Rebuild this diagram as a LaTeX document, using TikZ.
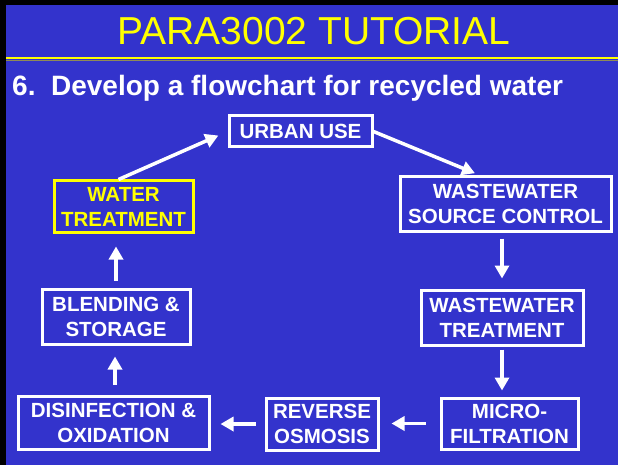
\documentclass[tikz,border=0pt]{standalone}
\usepackage{fontspec}
\setmainfont{Liberation Sans}
\usetikzlibrary{arrows.meta}
\definecolor{slideblue}{RGB}{51,51,204}
\definecolor{slideyellow}{RGB}{255,255,0}

\begin{document}
\begin{tikzpicture}[x=1pt,y=-1pt,>={Triangle[length=13pt,width=14pt]},
    stage/.style={draw=white,line width=3pt,text=white,align=center,inner sep=0pt,
      font=\bfseries\fontsize{20.5}{25}\selectfont},
    flow/.style={->,white,line width=3.5pt}]
  % slide background
  \fill[black] (0,0) rectangle (618,465);
  \fill[slideblue] (6,5) rectangle (618,465);
  \useasboundingbox (0,0) rectangle (618,465);
  \draw[slideyellow,line width=2.5pt] (6,58) -- (618,58);
  \draw[gray!60!olive,line width=1pt] (6,60.6) -- (618,60.6);

  % headings
  \node[anchor=base,text=slideyellow,font=\fontsize{39}{44}\selectfont] (title) at (314,45) {PARA3002 TUTORIAL};
  \node[anchor=base west,text=white,inner sep=0pt,font=\bfseries\fontsize{28}{32}\selectfont] (task) at (12,96) {6.\ \ Develop a flowchart for recycled water};

  % stages of the cycle
  \node[stage,minimum width=143pt,minimum height=31pt] (urban) at (300.5,131.5) {URBAN USE};
  \node[stage,draw=slideyellow,text=slideyellow,minimum width=139pt,minimum height=51pt] (water) at (123.5,206.5) {WATER\\TREATMENT};
  \node[stage,minimum width=211pt,minimum height=54pt] (source) at (505.5,204) {WASTEWATER\\SOURCE CONTROL};
  \node[stage,minimum width=162pt,minimum height=55pt] (wwt) at (502,317.5) {WASTEWATER\\TREATMENT};
  \node[stage,minimum width=148pt,minimum height=55pt] (blend) at (116,316.5) {BLENDING \&\\STORAGE};
  \node[stage,minimum width=191pt,minimum height=53pt] (disinf) at (113.5,422.5) {DISINFECTION \&\\OXIDATION};
  \node[stage,minimum width=112pt,minimum height=52pt] (ro) at (322,424) {REVERSE\\OSMOSIS};
  \node[stage,minimum width=137pt,minimum height=51pt] (micro) at (509.5,423.5) {MICRO-\\FILTRATION};

  % arrows between stages
  \draw[flow,shorten >=10pt] ([xshift=-5pt]water.north) -- (urban.west);
  \draw[flow,shorten >=6pt] (urban.east) -- ([xshift=-25pt]source.north);
  \draw[flow,shorten <=6pt,shorten >=10pt] (wwt.north |- source.south) -- (wwt.north);
  \draw[flow,shorten <=3pt,shorten >=6pt] (wwt.south) -- (wwt.south |- micro.north);
  \draw[flow,shorten <=14pt,shorten >=12pt] (micro.west) -- (micro.west -| ro.east);
  \draw[flow,shorten <=9pt,shorten >=10pt] (ro.west) -- (ro.west -| disinf.east);
  \draw[flow,shorten <=10pt,shorten >=11pt] ([xshift=1.5pt]disinf.north) -- ([xshift=1.5pt]disinf.north |- blend.south);
  \draw[flow,shorten <=7pt,shorten >=13pt] (blend.north) -- (blend.north |- water.south);
\end{tikzpicture}
\end{document}
